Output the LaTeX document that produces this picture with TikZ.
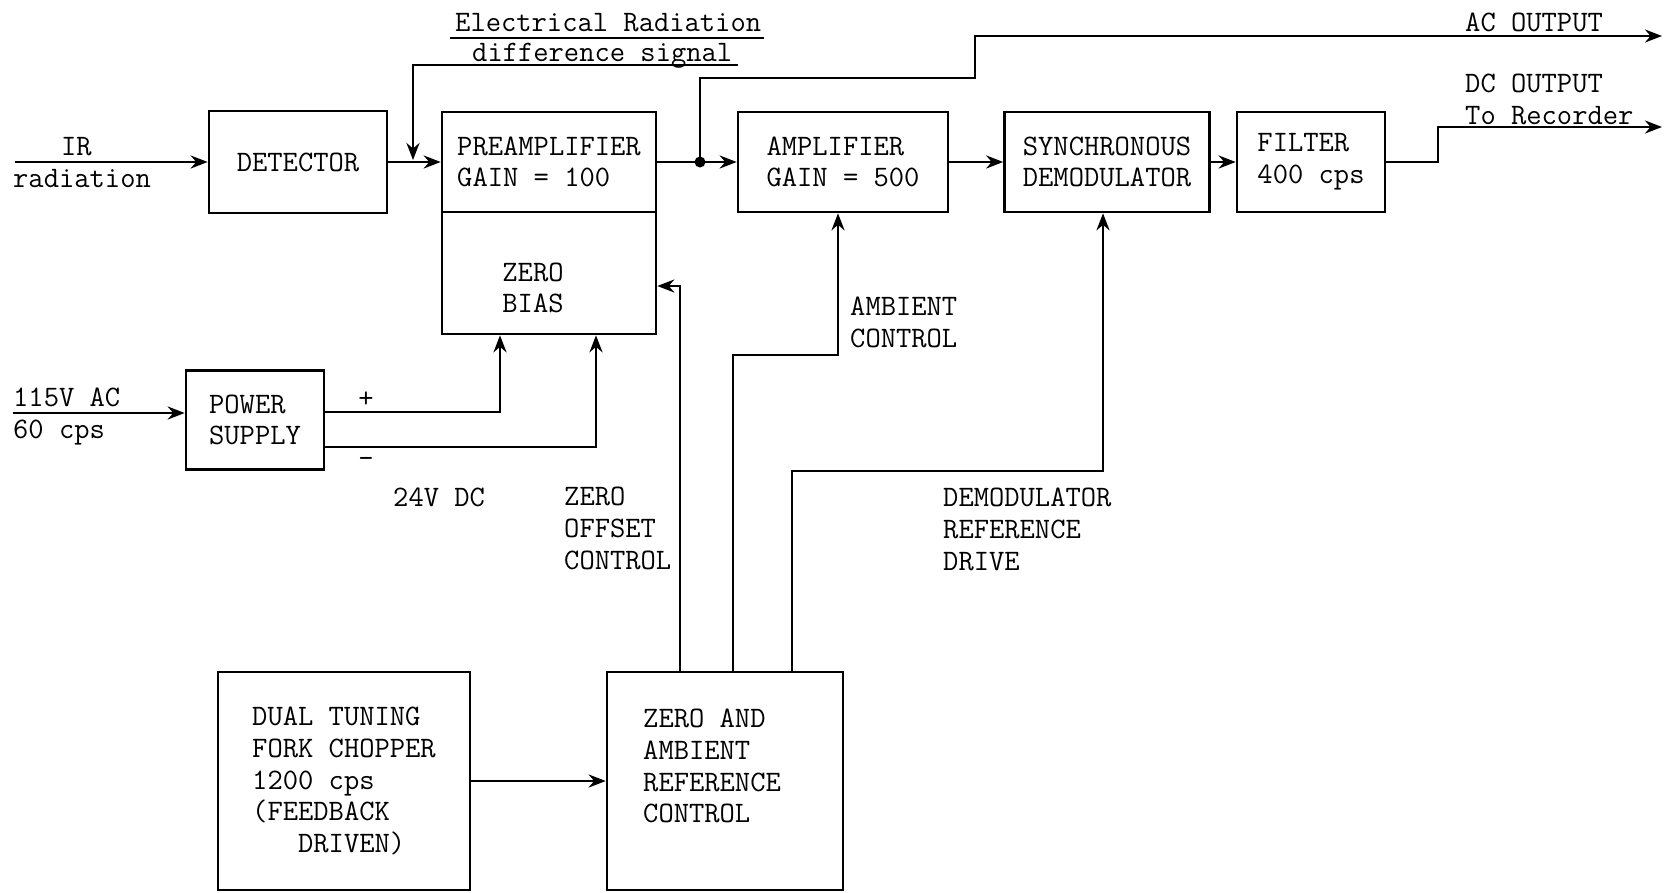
\documentclass[tikz,border=0pt]{standalone}
\usepackage{fontspec}
\usetikzlibrary{arrows.meta,calc}

\tikzset{
  box/.style={draw, line width=2.6pt, align=left, inner sep=0pt},
  txt/.style={inner sep=0pt, align=left, anchor=north west},
  wire/.style={line width=2.8pt}
}

\begin{document}
\begin{tikzpicture}[x=1pt,y=-1pt,
  every node/.style={font=\fontsize{29.7}{31.7}\ttfamily},
  >={Stealth[length=17pt,width=13pt]}]

\useasboundingbox (0,0) rectangle (1664,892);

% Signal chain
\node[box, minimum width=178, minimum height=102] (det) at (298,162) {DETECTOR};
\node[box, minimum width=214, minimum height=100] (pre) at (549,162) {PREAMPLIFIER\\GAIN = 100};
\node[box, minimum width=214, minimum height=122] (bias) at (549,273) {};
\node[align=center, inner sep=0pt] (biaslbl) at (533,288) {ZERO\\BIAS};
\node[box, minimum width=210, minimum height=100] (amp) at (843,162) {AMPLIFIER\\GAIN = 500};
\node[box, minimum width=205, minimum height=100] (sync) at (1107,162) {SYNCHRONOUS\\DEMODULATOR};
\node[box, minimum width=148, minimum height=100] (filt) at (1311,162) {FILTER\\400 cps};

% Supply and reference boxes
\node[box, minimum width=138, minimum height=99] (ps) at (255,420) {POWER\\SUPPLY};
\node[box, minimum width=252, minimum height=218] (chop) at (344,781)
  {DUAL TUNING\\FORK CHOPPER\\1200 cps\\(FEEDBACK\\\phantom{XXX}DRIVEN)};
\node[box, minimum width=236, minimum height=218] (zac) at (725,781) {};
\node[txt] (zaclbl) at (643,709) {ZERO AND\\AMBIENT\\REFERENCE\\CONTROL};

% Labels
\node[txt] (elrad) at (455,13) {Electrical Radiation};
\node[txt, anchor=base west] (dsiglbl) at (472,61) {difference signal};
\node[txt, anchor=base west] (irlbl) at (61,155) {IR};
\node[txt, anchor=base west] (radlbl) at (13,187) {radiation};
\node[txt, anchor=base west] (mainslbl) at (13,406) {115V AC};
\node[txt, anchor=base west] (freqlbl) at (13,438) {60 cps};
\node[inner sep=0pt] (pluslbl) at (366,400) {+};
\node[inner sep=0pt] (minuslbl) at (366,462) {-};
\node[txt] (dclbl) at (393,488) {24V DC};
\node[txt] (offlbl) at (564,487) {ZERO\\OFFSET\\CONTROL};
\node[txt] (amblbl) at (850,297) {AMBIENT\\CONTROL};
\node[txt] (reflbl) at (943,488) {DEMODULATOR\\REFERENCE\\DRIVE};
\node[txt] (aclbl) at (1465,13) {AC OUTPUT};
\node[txt] (dcoutlbl) at (1465,74) {DC OUTPUT\\To Recorder};

% Points for the wires
\coordinate (irin) at (15,162);
\coordinate (acin) at (13,413);
\coordinate (dsig) at (738,65);
\coordinate (fbk) at (413,160);
\coordinate (tap) at (700,162);
\coordinate (acstep) at (975,78);
\coordinate (acout) at (1662,36);
\coordinate (dcstep) at (1438,127);
\coordinate (dcout) at (1662,127);
\coordinate (amb) at (838,355);
\coordinate (dref) at (1103,471);

% Wires
\draw[wire] ($(elrad.south west)+(-5,6)$) -- ($(elrad.south east)+(3,6)$);
\draw[wire,->] (irin) -- (irin -| det.west);
\draw[wire,->] (det) -- (pre);
\draw[wire,->] (dsig) -| (fbk);
\draw[wire,->] (pre) -- (amp);
\fill (tap) circle (5.5pt);
\draw[wire,->] (tap) |- (acstep) |- (acout);
\draw[wire,->] (amp) -- (sync);
\draw[wire,->] (sync) -- (filt);
\draw[wire,->] (filt.east) -| (dcstep) -- (dcout);

\draw[wire,->] (acin) -- (acin -| ps.west);
\draw[wire,->] ($(ps.east)+(0,-8)$) -| ($(bias.south)+(-49,0)$);
\draw[wire,->] ($(ps.east)+(0,27)$) -| ($(bias.south)+(47,0)$);

\draw[wire,->] ($(zac.north)+(-45,0)$) |- ($(bias.east)+(0,13)$);
\draw[wire,->] ($(zac.north)+(8,0)$) |- (amb) -- (amb |- amp.south);
\draw[wire,->] ($(zac.north)+(67,0)$) |- (dref) -- (dref |- sync.south);
\draw[wire,->] (chop) -- (zac);

\end{tikzpicture}
\end{document}
